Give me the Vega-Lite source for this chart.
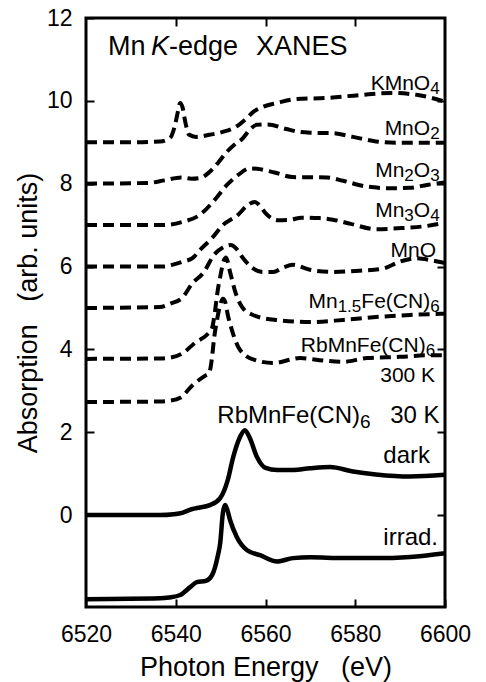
{
"$schema": "https://vega.github.io/schema/vega-lite/v6.json",
"width": 359, "height": 589,
"autosize": {"type": "none"},
"padding": {"left": 86, "top": 18, "right": 41, "bottom": 75},
"background": "white",
"config": {
  "font": "Liberation Sans",
  "view": {"stroke": "black", "strokeWidth": 3},
  "axis": {"domain": false, "grid": false, "ticks": true, "tickColor": "black", "tickWidth": 2, "tickSize": 8, "offset": -8, "labelColor": "black", "titleColor": "black", "labelFont": "Liberation Sans", "titleFont": "Liberation Sans", "titleFontWeight": "normal", "labelFontSize": 23, "titleFontSize": 27}
},
"datasets": {
"ref": [
{"s":"KMnO4","x":6520,"y":9.0},{"s":"KMnO4","x":6530,"y":9.0},{"s":"KMnO4","x":6536.5,"y":9.02},{"s":"KMnO4","x":6538.7,"y":9.1},{"s":"KMnO4","x":6539.8,"y":9.4},{"s":"KMnO4","x":6540.5,"y":9.75},{"s":"KMnO4","x":6541.0,"y":9.95},{"s":"KMnO4","x":6541.5,"y":9.85},{"s":"KMnO4","x":6542.2,"y":9.45},{"s":"KMnO4","x":6543.0,"y":9.18},{"s":"KMnO4","x":6544.5,"y":9.13},{"s":"KMnO4","x":6547.5,"y":9.18},{"s":"KMnO4","x":6550.5,"y":9.25},{"s":"KMnO4","x":6553.5,"y":9.38},{"s":"KMnO4","x":6555.5,"y":9.55},{"s":"KMnO4","x":6557.5,"y":9.75},{"s":"KMnO4","x":6559.5,"y":9.86},{"s":"KMnO4","x":6562.6,"y":9.95},{"s":"KMnO4","x":6566.5,"y":10.04},{"s":"KMnO4","x":6573.5,"y":10.07},{"s":"KMnO4","x":6581,"y":10.14},{"s":"KMnO4","x":6588,"y":10.19},{"s":"KMnO4","x":6594,"y":10.14},{"s":"KMnO4","x":6600,"y":9.98},
{"s":"MnO2","x":6520,"y":8.0},{"s":"MnO2","x":6534,"y":8.02},{"s":"MnO2","x":6537.5,"y":8.08},{"s":"MnO2","x":6541.2,"y":8.15},{"s":"MnO2","x":6543.5,"y":8.12},{"s":"MnO2","x":6545.5,"y":8.14},{"s":"MnO2","x":6547.5,"y":8.28},{"s":"MnO2","x":6549.4,"y":8.5},{"s":"MnO2","x":6551.4,"y":8.77},{"s":"MnO2","x":6553.5,"y":8.98},{"s":"MnO2","x":6554.8,"y":9.08},{"s":"MnO2","x":6556.5,"y":9.3},{"s":"MnO2","x":6558,"y":9.42},{"s":"MnO2","x":6560.5,"y":9.43},{"s":"MnO2","x":6564.6,"y":9.32},{"s":"MnO2","x":6567.5,"y":9.25},{"s":"MnO2","x":6570,"y":9.23},{"s":"MnO2","x":6575,"y":9.22},{"s":"MnO2","x":6579.5,"y":9.13},{"s":"MnO2","x":6584.6,"y":9.02},{"s":"MnO2","x":6589,"y":8.99},{"s":"MnO2","x":6600,"y":8.99},
{"s":"Mn2O3","x":6520,"y":7.0},{"s":"Mn2O3","x":6537.2,"y":7.0},{"s":"Mn2O3","x":6541.6,"y":7.08},{"s":"Mn2O3","x":6545.4,"y":7.25},{"s":"Mn2O3","x":6548.3,"y":7.56},{"s":"Mn2O3","x":6551.4,"y":7.97},{"s":"Mn2O3","x":6553.9,"y":8.21},{"s":"Mn2O3","x":6556.5,"y":8.37},{"s":"Mn2O3","x":6558.1,"y":8.36},{"s":"Mn2O3","x":6562,"y":8.27},{"s":"Mn2O3","x":6566,"y":8.16},{"s":"Mn2O3","x":6573.7,"y":8.15},{"s":"Mn2O3","x":6577.3,"y":8.07},{"s":"Mn2O3","x":6582.6,"y":7.93},{"s":"Mn2O3","x":6588,"y":7.89},{"s":"Mn2O3","x":6592.2,"y":7.9},{"s":"Mn2O3","x":6596,"y":7.97},{"s":"Mn2O3","x":6600,"y":8.03},
{"s":"Mn3O4","x":6520,"y":6.0},{"s":"Mn3O4","x":6537.2,"y":6.0},{"s":"Mn3O4","x":6539.2,"y":6.04},{"s":"Mn3O4","x":6541.4,"y":6.11},{"s":"Mn3O4","x":6543.8,"y":6.21},{"s":"Mn3O4","x":6545.4,"y":6.4},{"s":"Mn3O4","x":6548.1,"y":6.69},{"s":"Mn3O4","x":6550.5,"y":7.0},{"s":"Mn3O4","x":6553.9,"y":7.25},{"s":"Mn3O4","x":6556,"y":7.48},{"s":"Mn3O4","x":6557.6,"y":7.56},{"s":"Mn3O4","x":6558.8,"y":7.46},{"s":"Mn3O4","x":6560,"y":7.29},{"s":"Mn3O4","x":6562.8,"y":7.12},{"s":"Mn3O4","x":6565.5,"y":7.13},{"s":"Mn3O4","x":6568,"y":7.18},{"s":"Mn3O4","x":6572,"y":7.17},{"s":"Mn3O4","x":6575,"y":7.13},{"s":"Mn3O4","x":6579,"y":7.03},{"s":"Mn3O4","x":6584.6,"y":6.9},{"s":"Mn3O4","x":6590.6,"y":6.93},{"s":"Mn3O4","x":6596,"y":6.98},{"s":"Mn3O4","x":6600,"y":7.06},
{"s":"MnO","x":6520,"y":5.0},{"s":"MnO","x":6536.5,"y":5.02},{"s":"MnO","x":6538.7,"y":5.1},{"s":"MnO","x":6541.4,"y":5.24},{"s":"MnO","x":6543.6,"y":5.58},{"s":"MnO","x":6546.3,"y":5.87},{"s":"MnO","x":6548.5,"y":6.28},{"s":"MnO","x":6550.5,"y":6.46},{"s":"MnO","x":6552.3,"y":6.52},{"s":"MnO","x":6553.5,"y":6.43},{"s":"MnO","x":6554.8,"y":6.23},{"s":"MnO","x":6557,"y":5.97},{"s":"MnO","x":6559.4,"y":5.87},{"s":"MnO","x":6561.7,"y":5.87},{"s":"MnO","x":6564,"y":5.98},{"s":"MnO","x":6566.1,"y":6.04},{"s":"MnO","x":6569.9,"y":5.92},{"s":"MnO","x":6575,"y":5.87},{"s":"MnO","x":6581,"y":5.9},{"s":"MnO","x":6586.2,"y":5.95},{"s":"MnO","x":6590,"y":6.12},{"s":"MnO","x":6593.6,"y":6.2},{"s":"MnO","x":6597,"y":6.15},{"s":"MnO","x":6600,"y":6.08},
{"s":"Mn15","x":6520,"y":3.77},{"s":"Mn15","x":6536.5,"y":3.78},{"s":"Mn15","x":6538.7,"y":3.8},{"s":"Mn15","x":6541.6,"y":3.91},{"s":"Mn15","x":6544.3,"y":4.16},{"s":"Mn15","x":6547.2,"y":4.38},{"s":"Mn15","x":6548.1,"y":4.52},{"s":"Mn15","x":6548.7,"y":4.88},{"s":"Mn15","x":6549.2,"y":5.31},{"s":"Mn15","x":6549.9,"y":5.75},{"s":"Mn15","x":6550.7,"y":6.14},{"s":"Mn15","x":6551.2,"y":6.22},{"s":"Mn15","x":6552.1,"y":5.87},{"s":"Mn15","x":6553.2,"y":5.41},{"s":"Mn15","x":6554.8,"y":5.02},{"s":"Mn15","x":6557.2,"y":4.83},{"s":"Mn15","x":6562.3,"y":4.71},{"s":"Mn15","x":6569.9,"y":4.66},{"s":"Mn15","x":6577.3,"y":4.71},{"s":"Mn15","x":6584.6,"y":4.78},{"s":"Mn15","x":6592.2,"y":4.83},{"s":"Mn15","x":6600,"y":4.86},
{"s":"Rb300","x":6520,"y":2.73},{"s":"Rb300","x":6536.5,"y":2.74},{"s":"Rb300","x":6538.7,"y":2.76},{"s":"Rb300","x":6541.0,"y":2.83},{"s":"Rb300","x":6543.8,"y":3.14},{"s":"Rb300","x":6546.5,"y":3.36},{"s":"Rb300","x":6547.4,"y":3.42},{"s":"Rb300","x":6548.1,"y":3.82},{"s":"Rb300","x":6548.5,"y":4.23},{"s":"Rb300","x":6549.2,"y":4.71},{"s":"Rb300","x":6549.9,"y":5.07},{"s":"Rb300","x":6550.5,"y":5.22},{"s":"Rb300","x":6551.0,"y":5.15},{"s":"Rb300","x":6551.6,"y":4.83},{"s":"Rb300","x":6552.5,"y":4.47},{"s":"Rb300","x":6554.3,"y":3.99},{"s":"Rb300","x":6557.7,"y":3.74},{"s":"Rb300","x":6561.7,"y":3.67},{"s":"Rb300","x":6567.7,"y":3.79},{"s":"Rb300","x":6572,"y":3.74},{"s":"Rb300","x":6577.3,"y":3.7},{"s":"Rb300","x":6582.6,"y":3.79},{"s":"Rb300","x":6590,"y":3.82},{"s":"Rb300","x":6597.3,"y":3.86},{"s":"Rb300","x":6600,"y":3.86}
],
"lt": [
{"s":"dark","x":6520,"y":0.0},{"s":"dark","x":6536.5,"y":0.0},{"s":"dark","x":6539.5,"y":0.02},{"s":"dark","x":6541.6,"y":0.06},{"s":"dark","x":6543.5,"y":0.14},{"s":"dark","x":6544.7,"y":0.17},{"s":"dark","x":6547.6,"y":0.24},{"s":"dark","x":6549.9,"y":0.41},{"s":"dark","x":6551.6,"y":0.85},{"s":"dark","x":6552.8,"y":1.4},{"s":"dark","x":6554.3,"y":1.88},{"s":"dark","x":6555.4,"y":2.05},{"s":"dark","x":6556.5,"y":1.86},{"s":"dark","x":6558.1,"y":1.4},{"s":"dark","x":6560,"y":1.14},{"s":"dark","x":6562.6,"y":1.09},{"s":"dark","x":6566.1,"y":1.09},{"s":"dark","x":6569.9,"y":1.13},{"s":"dark","x":6574.4,"y":1.16},{"s":"dark","x":6579.5,"y":1.05},{"s":"dark","x":6584.6,"y":0.98},{"s":"dark","x":6592.2,"y":0.93},{"s":"dark","x":6600,"y":0.97},
{"s":"irrad","x":6520,"y":-2.03},{"s":"irrad","x":6536.5,"y":-2.01},{"s":"irrad","x":6538.5,"y":-1.99},{"s":"irrad","x":6541.0,"y":-1.93},{"s":"irrad","x":6543.2,"y":-1.74},{"s":"irrad","x":6544.7,"y":-1.62},{"s":"irrad","x":6546.7,"y":-1.59},{"s":"irrad","x":6548.1,"y":-1.45},{"s":"irrad","x":6549.4,"y":-0.97},{"s":"irrad","x":6549.9,"y":-0.68},{"s":"irrad","x":6550.5,"y":0.05},{"s":"irrad","x":6551.0,"y":0.24},{"s":"irrad","x":6551.5,"y":0.12},{"s":"irrad","x":6552.1,"y":-0.12},{"s":"irrad","x":6553.6,"y":-0.53},{"s":"irrad","x":6555.9,"y":-0.85},{"s":"irrad","x":6558.8,"y":-0.97},{"s":"irrad","x":6562.6,"y":-1.12},{"s":"irrad","x":6566.1,"y":-1.04},{"s":"irrad","x":6570,"y":-1.02},{"s":"irrad","x":6577.3,"y":-1.04},{"s":"irrad","x":6584.6,"y":-1.04},{"s":"irrad","x":6592.2,"y":-1.01},{"s":"irrad","x":6600,"y":-0.92}
],
"lab21": [
{"x":6596.69,"y":10.27,"t":"KMnO"},
{"x":6596.69,"y":9.18,"t":"MnO"},
{"x":6596.69,"y":8.16,"t":"O"},
{"x":6590.94,"y":8.16,"t":"Mn"},
{"x":6596.69,"y":7.2,"t":"O"},
{"x":6590.94,"y":7.2,"t":"Mn"},
{"x":6598.0,"y":6.23,"t":"MnO"},
{"x":6596.69,"y":5.0,"t":"Fe(CN)"},
{"x":6576.08,"y":5.0,"t":"Mn"},
{"x":6595.69,"y":3.94,"t":"RbMnFe(CN)"},
{"x":6597.8,"y":3.21,"t":"300 K"}
],
"sub17": [
{"x":6598.8,"y":10.17,"t":"4"},
{"x":6598.8,"y":9.08,"t":"2"},
{"x":6598.8,"y":8.06,"t":"3"},
{"x":6593.05,"y":8.06,"t":"2"},
{"x":6598.8,"y":7.1,"t":"4"},
{"x":6593.05,"y":7.1,"t":"3"},
{"x":6598.8,"y":4.9,"t":"6"},
{"x":6581.35,"y":4.9,"t":"1.5"},
{"x":6597.8,"y":3.84,"t":"6"}
],
"lab24": [
{"x":6598.8,"y":2.22,"t":"30 K"},
{"x":6581.06,"y":2.22,"t":"RbMnFe(CN)"},
{"x":6596.65,"y":1.26,"t":"dark"},
{"x":6598.44,"y":-0.72,"t":"irrad."}
],
"sub19": [{"x":6583.41,"y":2.11,"t":"6"}],
"ttl": [{"x":6524.9,"y":11.11,"t":"Mn"},{"x":6538.5,"y":11.11,"t":"-edge"},{"x":6557.88,"y":11.11,"t":"XANES"}],
"ttlK": [{"x":6534.49,"y":11.11,"t":"K"}]
},
"layer": [
{"data": {"name": "ref"},
 "mark": {"type": "line", "color": "black", "strokeWidth": 4, "strokeDash": [11, 6], "strokeCap": "butt", "interpolate": "monotone"},
 "encoding": {
  "x": {"field": "x", "type": "quantitative", "scale": {"domain": [6520, 6600], "nice": false, "zero": false},
        "axis": {"values": [6520, 6540, 6560, 6580, 6600], "format": "d", "title": "Photon Energy\u00a0\u00a0\u00a0(eV)", "labelPadding": 16, "titlePadding": 8, "labelFlush": false}},
  "y": {"field": "y", "type": "quantitative", "scale": {"domain": [-2.22, 12], "nice": false, "zero": false},
        "axis": {"values": [0, 2, 4, 6, 8, 10, 12], "title": "Absorption\u00a0\u00a0\u00a0(arb. units)", "labelPadding": 14, "titlePadding": 4}},
  "detail": {"field": "s"}
 }},
{"data": {"name": "lt"},
 "mark": {"type": "line", "color": "black", "strokeWidth": 4.5, "interpolate": "monotone"},
 "encoding": {
  "x": {"field": "x", "type": "quantitative", "scale": {"domain": [6520, 6600], "nice": false, "zero": false},
        "axis": {"orient": "top", "values": [6540, 6560, 6580], "labels": false, "title": null}},
  "y": {"field": "y", "type": "quantitative", "scale": {"domain": [-2.22, 12], "nice": false, "zero": false},
        "axis": {"orient": "right", "values": [0, 2, 4, 6, 8, 10], "labels": false, "title": null}},
  "detail": {"field": "s"}
 }},
{"data": {"name": "lab21"},
 "mark": {"type": "text", "align": "right", "baseline": "alphabetic", "fontSize": 21, "font": "Liberation Sans", "color": "black"},
 "encoding": {
  "x": {"field": "x", "type": "quantitative", "scale": {"domain": [6520, 6600], "nice": false, "zero": false}, "axis": null},
  "y": {"field": "y", "type": "quantitative", "scale": {"domain": [-2.22, 12], "nice": false, "zero": false}, "axis": null},
  "text": {"field": "t"}
 }},
{"data": {"name": "sub17"},
 "mark": {"type": "text", "align": "right", "baseline": "alphabetic", "fontSize": 17, "font": "Liberation Sans", "color": "black"},
 "encoding": {
  "x": {"field": "x", "type": "quantitative", "scale": {"domain": [6520, 6600], "nice": false, "zero": false}, "axis": null},
  "y": {"field": "y", "type": "quantitative", "scale": {"domain": [-2.22, 12], "nice": false, "zero": false}, "axis": null},
  "text": {"field": "t"}
 }},
{"data": {"name": "lab24"},
 "mark": {"type": "text", "align": "right", "baseline": "alphabetic", "fontSize": 24, "font": "Liberation Sans", "color": "black"},
 "encoding": {
  "x": {"field": "x", "type": "quantitative", "scale": {"domain": [6520, 6600], "nice": false, "zero": false}, "axis": null},
  "y": {"field": "y", "type": "quantitative", "scale": {"domain": [-2.22, 12], "nice": false, "zero": false}, "axis": null},
  "text": {"field": "t"}
 }},
{"data": {"name": "sub19"},
 "mark": {"type": "text", "align": "right", "baseline": "alphabetic", "fontSize": 19, "font": "Liberation Sans", "color": "black"},
 "encoding": {
  "x": {"field": "x", "type": "quantitative", "scale": {"domain": [6520, 6600], "nice": false, "zero": false}, "axis": null},
  "y": {"field": "y", "type": "quantitative", "scale": {"domain": [-2.22, 12], "nice": false, "zero": false}, "axis": null},
  "text": {"field": "t"}
 }},
{"data": {"name": "ttl"},
 "mark": {"type": "text", "align": "left", "baseline": "alphabetic", "fontSize": 27, "font": "Liberation Sans", "color": "black"},
 "encoding": {
  "x": {"field": "x", "type": "quantitative", "scale": {"domain": [6520, 6600], "nice": false, "zero": false}, "axis": null},
  "y": {"field": "y", "type": "quantitative", "scale": {"domain": [-2.22, 12], "nice": false, "zero": false}, "axis": null},
  "text": {"field": "t"}
 }},
{"data": {"name": "ttlK"},
 "mark": {"type": "text", "align": "left", "baseline": "alphabetic", "fontSize": 27, "fontStyle": "italic", "font": "Liberation Sans", "color": "black"},
 "encoding": {
  "x": {"field": "x", "type": "quantitative", "scale": {"domain": [6520, 6600], "nice": false, "zero": false}, "axis": null},
  "y": {"field": "y", "type": "quantitative", "scale": {"domain": [-2.22, 12], "nice": false, "zero": false}, "axis": null},
  "text": {"field": "t"}
 }}
],
"resolve": {"axis": {"x": "independent", "y": "independent"}}
}
